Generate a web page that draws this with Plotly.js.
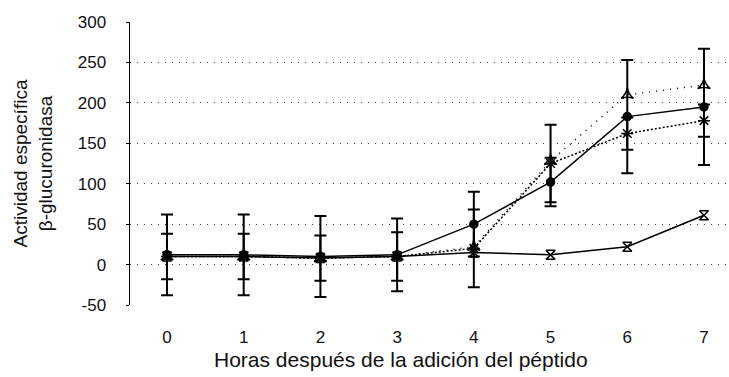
<!DOCTYPE html>
<html>
<head>
<meta charset="utf-8">
<script src="https://cdn.plot.ly/plotly-3.0.1.min.js"></script>
<style>html,body{margin:0;padding:0;background:#fff;overflow:hidden}</style>
</head>
<body>
<div id="chart" style="width:729px;height:377px"></div>
<script>
const hours = [0, 1, 2, 3, 4, 5, 6, 7];
const tickLabels = ['0', '1', '2', '3', '4', '5', '6', '7'];
const yTicks = [-50, 0, 50, 100, 150, 200, 250, 300];
const yTickLabels = ['-50', '0', '50', '100', '150', '200', '250', '300'];
const xTitle = 'Horas después de la adición del péptido';
const yTitle = 'Actividad específica<br>β-glucuronidasa';

const seriesA = [12, 12, 10, 12, 50, 102, 183, 195];
const errA    = [50, 50, 50, 45, 40, 30, 70, 72];
const seriesB = [10, 10, 8, 10, 20, 125, 162, 178];
const errB    = [28, 28, 28, 30, 48, 48, 20, 20];
const seriesC = [10, 10, 8, 10, 22, 128, 210, 222];
const seriesD = [10, 10, 8, 10, 15, 12, 22, 61];

const black = '#000';
function tr(y, err, dash, sym, size) {
  const t = {
    x: hours, y: y, type: 'scatter', mode: 'lines+markers',
    line: {color: black, width: 1.5, dash: dash},
    marker: {symbol: sym, size: size, color: black, line: {color: black, width: 1.5}},
    showlegend: false, hoverinfo: 'skip'
  };
  if (err) t.error_y = {type: 'data', array: err, visible: true, color: black, thickness: 2, width: 6};
  return t;
}

const data = [
  tr(seriesB, errB, '2px,2px', 'asterisk-open', 10),
  tr(seriesC, null, '1px,6px', 'star-triangle-up-open', 9),
  tr(seriesD, null, 'solid', 'hourglass-open', 9),
  tr(seriesA, errA, 'solid', 'circle', 8)
];

const layout = {
  width: 729, height: 377,
  margin: {l: 130, r: 0, t: 22, b: 72},
  paper_bgcolor: '#fff', plot_bgcolor: '#fff',
  font: {family: 'Liberation Sans, Arial, sans-serif', color: black},
  xaxis: {
    range: [-0.482, 7.326],
    tickmode: 'array', tickvals: hours, ticktext: tickLabels,
    showgrid: false, zeroline: false, showline: false,
    ticks: 'outside', ticklen: 17, tickcolor: 'rgba(0,0,0,0)',
    tickfont: {size: 17, color: '#111'}
  },
  yaxis: {
    range: [-50, 300],
    tickmode: 'array', tickvals: yTicks, ticktext: yTickLabels,
    showgrid: true, gridcolor: '#444', gridwidth: 1, griddash: '1px,6px',
    zeroline: false, showline: true, linecolor: black, linewidth: 1.5,
    ticks: 'outside', ticklen: 3, tickcolor: black,
    ticklabelstandoff: 16,
    tickfont: {size: 17, color: '#111'},
    title: {text: yTitle, font: {size: 19, color: '#111'}, standoff: 20}
  },
  annotations: [{
    text: xTitle, xref: 'paper', yref: 'paper', x: 0.452, y: -0.194,
    xanchor: 'center', yanchor: 'middle', showarrow: false,
    font: {size: 21, color: '#111'}
  }]
};

Plotly.newPlot('chart', data, layout, {displayModeBar: false, staticPlot: true});
</script>
</body>
</html>
